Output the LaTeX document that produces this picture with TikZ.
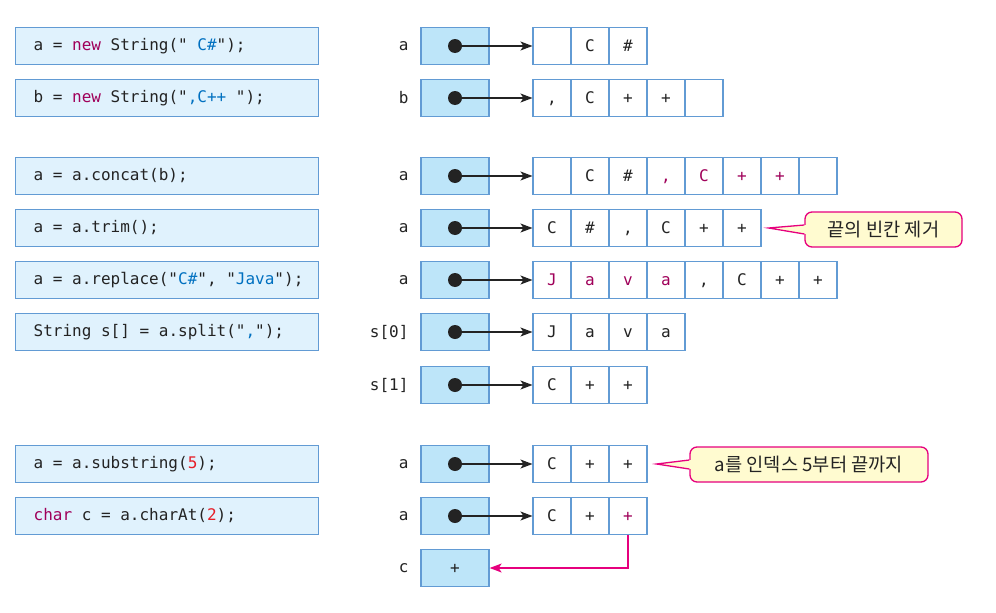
\documentclass[tikz,border=0pt]{standalone}
\usepackage{fontspec}
\setmonofont{DejaVu Sans Mono}
\newfontfamily\kr{Noto Sans CJK KR}
\usetikzlibrary{positioning, arrows.meta}
\definecolor{codefill}{RGB}{224,242,253}
\definecolor{codeline}{RGB}{98,155,212}
\definecolor{ptrfill}{RGB}{189,229,249}
\definecolor{kw}{RGB}{160,0,90}
\definecolor{str}{RGB}{0,112,192}
\definecolor{num}{RGB}{230,30,40}
\definecolor{hot}{RGB}{230,0,126}
\definecolor{notefill}{RGB}{255,251,208}
\definecolor{ink}{RGB}{35,35,35}
\newcommand\mg[1]{\textcolor{kw}{#1}}
\newcommand\ws{\hspace*{0.6025em}} % one monospace blank
\tikzset{
    x=1pt, y=-1pt, % one unit is one pixel, y grows downwards
    every node/.style={font=\ttfamily\fontsize{16}{19}\selectfont, text=ink},
    code/.style={draw=codeline, line width=1.3pt, fill=codefill, anchor=west, text width=267pt, inner xsep=18pt, inner ysep=0pt, minimum height=37pt, align=left}, % java statement
    ptr/.style={draw=codeline, line width=1.3pt, fill=ptrfill, minimum width=68pt, minimum height=37pt, inner sep=0pt, text height=11.7pt, text depth=0pt}, % reference variable
    cell/.style={draw=codeline, line width=1.1pt, fill=white, minimum width=38pt, minimum height=37pt, inner sep=0pt, text height=11.7pt, text depth=0pt}, % one char of a string
    varname/.style={anchor=east},
    ball/.style={circle, fill=ink, minimum size=14pt, inner sep=0pt},
    link/.style={-{Stealth[length=12pt,width=9pt,inset=3pt]}, line width=1.1pt, draw=ink},
    pick/.style={-{Stealth[length=12pt,width=9pt,inset=3pt]}, line width=1.1pt, draw=hot},
    remark/.style={draw=hot, line width=1.3pt, fill=notefill, rounded corners=7pt, minimum height=35pt, inner sep=0pt, font=\kr\fontsize{18.7}{19}\selectfont},
}
\begin{document}
\begin{tikzpicture}
\useasboundingbox (0,0) rectangle (996,613);
% statements
\node[code] (s1) at (15,46) {a\ws=\ws\mg{new}\ws String("\ws\textcolor{str}{C\#}");};
\node[code] (s2) at (15,98) {b\ws=\ws\mg{new}\ws String("\textcolor{str}{,C++}\ws");};
\node[code] (s3) at (15,176) {a\ws=\ws a.concat(b);};
\node[code] (s4) at (15,228) {a\ws=\ws a.trim();};
\node[code] (s5) at (15,280) {a\ws=\ws a.replace("\textcolor{str}{C\#}",\ws"\textcolor{str}{Java}");};
\node[code] (s6) at (15,332) {String\ws s[]\ws=\ws a.split("\textcolor{str}{,}");};
\node[code] (s7) at (15,464) {a\ws=\ws a.substring(\textcolor{num}{5});};
\node[code] (s8) at (15,516) {\mg{char}\ws c\ws=\ws a.charAt(\textcolor{num}{2});};
% references
\foreach \r/\y/\lab in {1/46/a, 2/98/b, 3/176/a, 4/228/a, 5/280/a, 6/332/{s[0]}, 7/385/{s[1]}, 8/464/a, 9/516/a} {
    \node[varname] (l\r) at (412,\y) {\lab};
    \node[ptr] (v\r) at (455,\y) {};
    \node[ball] (d\r) at (455,\y) {};
}
\node[varname] (lc) at (412,568) {c};
\node[ptr] (vc) at (455,568) {+};
% string objects
\foreach \t [count=\i] in {{},C,\#} \node[cell] (arr1-\i) at ({514+38*\i},46) {\t};
\foreach \t [count=\i] in {{,},C,+,+,{}} \node[cell] (arr2-\i) at ({514+38*\i},98) {\t};
\foreach \t [count=\i] in {{},C,\#,{\mg{,}},{\mg{C}},{\mg{+}},{\mg{+}},{}} \node[cell] (arr3-\i) at ({514+38*\i},176) {\t};
\foreach \t [count=\i] in {C,\#,{,},C,+,+} \node[cell] (arr4-\i) at ({514+38*\i},228) {\t};
\foreach \t [count=\i] in {{\mg{J}},{\mg{a}},{\mg{v}},{\mg{a}},{,},C,+,+} \node[cell] (arr5-\i) at ({514+38*\i},280) {\t};
\foreach \t [count=\i] in {J,a,v,a} \node[cell] (arr6-\i) at ({514+38*\i},332) {\t};
\foreach \t [count=\i] in {C,+,+} \node[cell] (arr7-\i) at ({514+38*\i},385) {\t};
\foreach \t [count=\i] in {C,+,+} \node[cell] (arr8-\i) at ({514+38*\i},464) {\t};
\foreach \t [count=\i] in {C,+,{\mg{+}}} \node[cell] (arr9-\i) at ({514+38*\i},516) {\t};
\foreach \r in {1,...,9} \draw[link] (d\r) -- (arr\r-1);
\draw[pick] (arr9-3.south) |- (vc.east);
% notes
\coordinate[right=7pt of arr4-6] (tip1);
\node[remark, minimum width=157pt] (n1) at (883.5,229.5) {끝의 빈칸 제거};
\fill[notefill] ([xshift=2pt,yshift=4.5pt]n1.west) -- (tip1) -- ([xshift=2pt,yshift=-4.5pt]n1.west) -- cycle;
\draw[hot, line width=1.3pt] ([yshift=4.5pt]n1.west) -- (tip1) -- ([yshift=-4.5pt]n1.west);
\coordinate[right=9pt of arr8-3] (tip2);
\node[remark, minimum width=238pt] (n2) at (809,464.5) {a를 인덱스 5부터 끝까지};
\fill[notefill] ([xshift=2pt,yshift=4.5pt]n2.west) -- (tip2) -- ([xshift=2pt,yshift=-4.5pt]n2.west) -- cycle;
\draw[hot, line width=1.3pt] ([yshift=4.5pt]n2.west) -- (tip2) -- ([yshift=-4.5pt]n2.west);
\end{tikzpicture}
\end{document}
